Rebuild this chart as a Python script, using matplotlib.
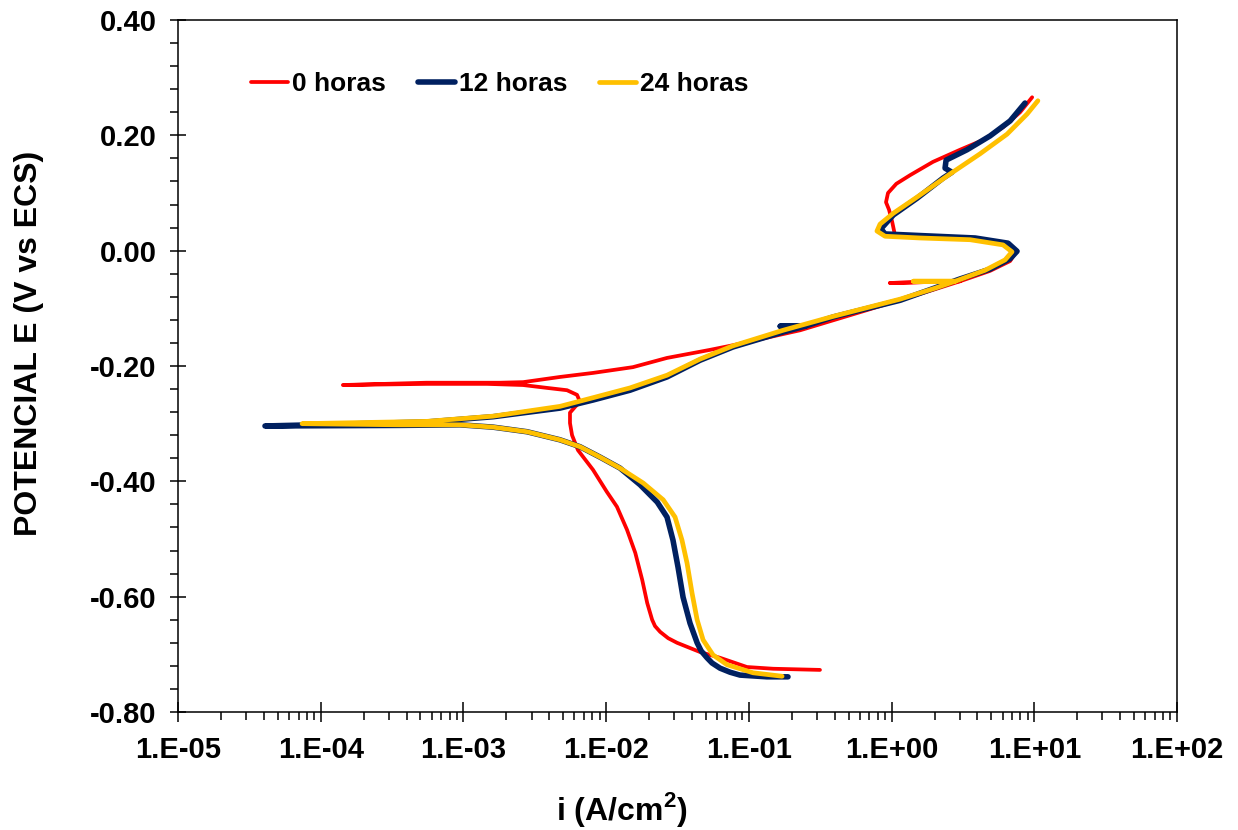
import math
import matplotlib
matplotlib.use("Agg")
import matplotlib.pyplot as plt
from matplotlib.ticker import LogLocator, MultipleLocator, FuncFormatter, NullFormatter

plt.rcParams["font.family"] = ["Liberation Sans", "DejaVu Sans"]
plt.rcParams["font.weight"] = "bold"

# Curvas de polarización: densidad de corriente (A/cm2) y potencial (V vs ECS)
i_0h = [0.315, 0.148, 0.097, 0.0628, 0.0455, 0.0314, 0.0272, 0.0239, 0.0220, 0.0210,
        0.0194, 0.0179, 0.0160, 0.0140, 0.0119, 0.0101, 0.00809, 0.00635, 0.00577,
        0.00558, 0.00558, 0.00605, 0.00656, 0.00625, 0.00532, 0.00386, 0.00262, 0.00146,
        5.56e-4, 1.43e-4, 5.5e-4, 0.0018, 0.00262, 0.00475, 0.00809, 0.0154, 0.0267,
        0.0535, 0.0774, 0.229, 0.673, 1.95, 3.02, 0.975, 3.02, 4.90, 6.77, 7.45, 6.55,
        3.85, 1.66, 1.06, 1.01, 0.96, 0.914, 0.944, 1.08, 1.35, 1.95, 3.02, 4.38, 6.04,
        7.95, 9.66]
E_0h = [-0.727, -0.725, -0.722, -0.706, -0.696, -0.680, -0.672, -0.661, -0.651, -0.640,
        -0.611, -0.571, -0.524, -0.484, -0.444, -0.418, -0.380, -0.346, -0.320,
        -0.299, -0.281, -0.271, -0.262, -0.250, -0.242, -0.238, -0.233, -0.231,
        -0.231, -0.233, -0.229, -0.229, -0.228, -0.219, -0.212, -0.202, -0.186,
        -0.172, -0.164, -0.138, -0.103, -0.068, -0.053, -0.056, -0.053, -0.035, -0.018,
        -0.002, 0.012, 0.020, 0.024, 0.025, 0.050, 0.071, 0.084, 0.100, 0.116, 0.131,
        0.154, 0.175, 0.192, 0.214, 0.240, 0.266]

i_12h = [0.188, 0.134, 0.0867, 0.0738, 0.0628, 0.0552, 0.0509, 0.0463, 0.0434, 0.0387,
         0.0346, 0.0319, 0.0294, 0.0267, 0.0228, 0.0173, 0.0125, 0.00906, 0.00656,
         0.00475, 0.00279, 0.00161, 9.46e-4, 3.6e-4, 4.07e-5, 1.88e-4, 5.56e-4, 0.00161,
         0.00475, 0.00809, 0.0147, 0.0267, 0.0455, 0.0774, 0.174, 0.248, 0.166, 0.248,
         0.389, 1.15, 3.02, 4.90, 6.77, 7.57, 6.55, 3.85, 1.66, 0.90, 0.843, 1.03, 1.51,
         2.30, 2.65, 2.37, 2.41, 3.38, 4.90, 6.77, 8.61]
E_12h = [-0.739, -0.739, -0.736, -0.731, -0.724, -0.715, -0.706, -0.694, -0.680, -0.646,
         -0.601, -0.549, -0.502, -0.462, -0.436, -0.406, -0.377, -0.358, -0.340,
         -0.328, -0.314, -0.306, -0.302, -0.303, -0.304, -0.300, -0.297, -0.288,
         -0.273, -0.259, -0.242, -0.219, -0.190, -0.167, -0.141, -0.131, -0.131, -0.131,
         -0.115, -0.086, -0.049, -0.032, -0.014, -0.001, 0.013, 0.022, 0.026, 0.029,
         0.038, 0.062, 0.091, 0.126, 0.136, 0.143, 0.157, 0.175, 0.199, 0.225, 0.256]

i_24h = [0.171, 0.107, 0.0703, 0.0561, 0.0478, 0.0434, 0.0400, 0.0369, 0.0340, 0.0304,
         0.0251, 0.0182, 0.0125, 0.00906, 0.00656, 0.00475, 0.00279, 0.00161, 9.46e-4,
         3.6e-4, 7.4e-5, 5.56e-4, 0.00161, 0.00475, 0.00809, 0.0147, 0.0267, 0.0455,
         0.0774, 0.174, 0.389, 1.15, 2.02, 2.79, 1.42, 2.79, 4.52, 6.24, 6.98, 6.04, 3.55,
         1.58, 0.90, 0.79, 0.83, 1.03, 1.51, 2.57, 4.17, 6.44, 8.91, 10.6]
E_24h = [-0.738, -0.732, -0.718, -0.701, -0.675, -0.640, -0.594, -0.542, -0.502, -0.462,
         -0.432, -0.403, -0.377, -0.358, -0.340, -0.328, -0.314, -0.306, -0.302,
         -0.302, -0.300, -0.296, -0.287, -0.270, -0.255, -0.238, -0.216, -0.188,
         -0.165, -0.138, -0.114, -0.084, -0.065, -0.053, -0.053, -0.053, -0.034, -0.016,
         -0.002, 0.010, 0.019, 0.022, 0.025, 0.034, 0.046, 0.065, 0.093, 0.133, 0.168,
         0.202, 0.237, 0.260]

series = [
    ("0 horas", i_0h, E_0h, "#FF0000", 2.7),
    ("12 horas", i_12h, E_12h, "#002060", 4.0),
    ("24 horas", i_24h, E_24h, "#FFC000", 3.4),
]

fig = plt.figure(figsize=(12.38, 8.30), dpi=100)
ax = fig.add_axes([178 / 1238, 1 - 712 / 830, (1177 - 178) / 1238, (712 - 20) / 830])

for label, i, E, color, lw in series:
    ax.plot(i, E, color=color, lw=lw, label=label, solid_capstyle="round",
            solid_joinstyle="round")

ax.set_xscale("log")
ax.set_xlim(1e-5, 1e2)
ax.set_ylim(-0.8, 0.4)

ax.xaxis.set_major_locator(LogLocator(base=10, numticks=10))
ax.xaxis.set_minor_locator(LogLocator(base=10, subs=range(2, 10), numticks=100))
ax.xaxis.set_minor_formatter(NullFormatter())
ax.xaxis.set_major_formatter(FuncFormatter(
    lambda v, p: "1.E{:+03d}".format(int(round(math.log10(v))))))
ax.yaxis.set_major_locator(MultipleLocator(0.2))
ax.yaxis.set_minor_locator(MultipleLocator(0.04))
ax.yaxis.set_major_formatter(FuncFormatter(lambda v, p: "{:.2f}".format(v)))

ax.tick_params(axis="x", which="major", direction="inout", length=15, width=1.1,
               labelsize=21, pad=10)
ax.tick_params(axis="x", which="minor", direction="out", length=6, width=1.1)
ax.tick_params(axis="y", which="major", direction="inout", length=11, width=1.1,
               labelsize=21, pad=10)
ax.tick_params(axis="y", which="minor", direction="out", length=5.5, width=1.1)
for s in ax.spines.values():
    s.set_linewidth(1.1)

ax.set_xlabel("i (A/cm$^\\mathregular{2}$)", fontsize=23, fontweight="bold")
ax.set_ylabel("POTENCIAL E (V vs ECS)", fontsize=23, fontweight="bold")
ax.xaxis.set_label_coords(0.444, -0.112)
ax.yaxis.set_label_coords(-0.134, 0.533)

leg = ax.legend(loc="upper left", bbox_to_anchor=(0.063, 0.94), ncol=3, frameon=False,
                fontsize=19, handlelength=1.4, handletextpad=0.15, columnspacing=1.2,
                borderaxespad=0)
for t in leg.get_texts():
    t.set_fontweight("bold")

fig.savefig("out.png", dpi=100)
